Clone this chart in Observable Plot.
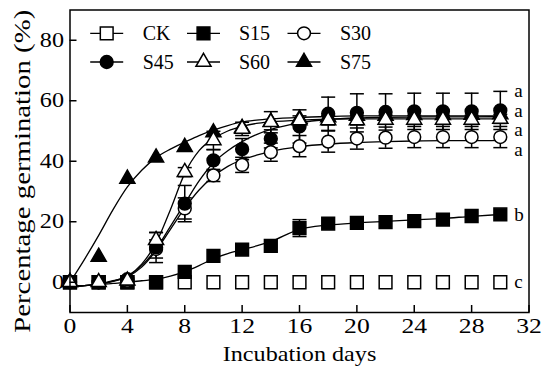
<!DOCTYPE html>
<html><head><meta charset="utf-8">
<script src="https://cdn.jsdelivr.net/npm/d3@7"></script>
<script src="https://cdn.jsdelivr.net/npm/@observablehq/plot@0.6"></script>
<style>
body{margin:0;background:#fff;}
#chart svg{font-family:"Liberation Serif","Times New Roman",serif;}
</style></head><body><div id="chart"></div>
<script>
// ---- data ----
const days = [0,2,4,6,8,10,12,14,16,18,20,22,24,26,28,30];
const CK  = [0,0,0,0,0,0,0,0,0,0,0,0,0,0,0,0];
const S15 = [0,0,0,0,3.4,8.7,10.8,12,17.9,19.4,19.6,19.9,20.2,20.7,21.9,22.4];
const S30 = [0,0,0.5,11,24.4,35.3,38.8,43,45,46.5,47.5,47.8,48,48,48,48];
const S45 = [0,0,1,11.5,26,40.3,44,47.4,51.5,55.7,56,56.3,56.5,56.5,56.5,56.8];
const S60 = [0,0,0.5,13.9,36.4,46.9,50.7,52.9,53.5,53.5,53.5,53.7,53.7,53.7,53.7,54];
const S75 = [0,8.4,34.2,41.2,44.7,49.5,51,53,54,54.5,55,55,55.2,55.2,55.3,55.5];
// standard errors
const seCK  = [0,0,0,0,0,0,0,0,0,0,0,0,0,0,0,0];
const seS15 = [0,0,0,0,0,0,0,0,2.8,0,0,0,0,0,0,0];
const seS30 = [0,0,0,3,3.5,2,2.5,3,3.5,3.5,3.5,3.5,3.5,3.5,3.5,3.5];
const seS45 = [0,0,0,5,6,3.5,3.5,3,5.5,5.5,6.3,6,6,6,6,6.3];
const seS60 = [0,0,0,2.5,1.5,3,2.2,3.5,1.5,1.5,1.5,1.5,1.5,1.5,1.5,1.5];
const seS75 = [0,0,0,0,0,0,0,0,0,0,0,0,0,0,0,0];
// fitted curves
const fitDays = [0,1,2,3,4,5,6,7,8,9,10,11,12,13,14,16,18,20,22,24,26,28,30];
const fitS15 = [-1.3,-1.1,-0.8,-0.4,0,0.5,1,2,3.5,5.5,7.8,9.5,10.8,12,13.5,17.5,18.9,19.6,20.1,20.6,21.1,21.8,22.4];
const fitS30 = [-1.3,-1.1,-0.6,0.3,1.8,5,10.5,17.5,24.5,30.5,35,38.3,40.5,42,43.2,44.8,45.7,46.2,46.5,46.7,46.8,46.8,46.9];
const fitS45 = [-1.3,-1.1,-0.6,0.4,2,5.5,11,18.5,26,33.5,39.5,43.5,46.5,48.8,50.5,52.7,53.8,54.3,54.5,54.6,54.7,54.7,54.8];
const fitS60 = [-1.3,-1.1,-0.6,0.5,2,6,13,24,36,43.5,47.5,50,51.5,52.5,53,53.6,53.9,54,54,54,54,54,54];
const fitS75 = [0,7.5,15.5,24,31.5,37,41.2,44,46.3,48.5,50.3,51.8,53,53.6,54,54.5,54.8,55,55,55,55,55,55];
// significance letters
const sigLetters = ["a","a","a","a","b","c"];
const sigY = [63.4,56.8,50.5,43.6,22.1,0];
const sigX = [30,30,30,30,30,30];
// axes
const xTicks = [0,4,8,12,16,20,24,28,32];
const yTicks = [0,20,40,60,80];
const xTitle = "Incubation days";
const yTitle = "Percentage germination (%)";
const legendNames = ["CK","S15","S30","S45","S60","S75"];

// ---- styles ----
const sym = {CK:"square",S15:"square",S30:"circle",S45:"circle",S60:"triangle",S75:"triangle"};
const filled = {CK:false,S15:true,S30:false,S45:true,S60:false,S75:true};
const rad = {square:7.2,circle:6.4,triangle:5.6};

const vals = {CK,S15,S30,S45,S60,S75};
const ses = {CK:seCK,S15:seS15,S30:seS30,S45:seS45,S60:seS60,S75:seS75};
const fits = {S15:fitS15,S30:fitS30,S45:fitS45,S60:fitS60,S75:fitS75};

const rows = s => days.map((d,i)=>({day:d, v:vals[s][i], lo:vals[s][i]-ses[s][i], hi:vals[s][i]+ses[s][i], se:ses[s][i]}));
const fitRows = s => fitDays.map((d,i)=>({day:d, v:fits[s][i]}));

const cap = {draw(ctx, size){ const w = 7; ctx.moveTo(-w,0); ctx.lineTo(w,0); }};

const drawOrder = ["CK","S15","S30","S45","S75","S60"];
const marks = [];
for (const s of Object.keys(fits)) {
  marks.push(Plot.line(fitRows(s), {x:"day", y:"v", curve:"monotone-x", stroke:"black", strokeWidth:1.3}));
}
for (const s of drawOrder) {
  const r = rows(s).filter(d=>d.se>0);
  marks.push(Plot.ruleX(r, {x:"day", y1:"lo", y2:"hi", stroke:"black", strokeWidth:1.5}));
  marks.push(Plot.dot(r, {x:"day", y:"hi", symbol:cap, r:3, fill:"none", stroke:"black", strokeWidth:1.5}));
  marks.push(Plot.dot(r, {x:"day", y:"lo", symbol:cap, r:3, fill:"none", stroke:"black", strokeWidth:1.5}));
}
for (const s of drawOrder) {
  marks.push(Plot.dot(rows(s), {x:"day", y:"v", symbol:sym[s], r:rad[sym[s]],
    fill: filled[s] ? "black" : "white", stroke:"black", strokeWidth:1.5}));
}

const plot = Plot.plot({
  width:548, height:368,
  marginLeft:69.5, marginRight:19.5, marginTop:9.5, marginBottom:56,
  style:{fontFamily:"Liberation Serif, Times New Roman, serif", fontSize:"20px", background:"white", overflow:"visible"},
  x:{domain:[0,32]},
  y:{domain:[-10,90]},
  marks:[
    ...marks,
    Plot.frame({stroke:"black", strokeWidth:1.5}),
    Plot.axisX(xTicks, {tickSize:-7, tickFormat:()=>"", label:null, strokeWidth:1.5}),
    Plot.axisX(xTicks, {tickSize:0, tickPadding:6, label:null, fontSize:21, fill:"black", className:"xtl"}),
    Plot.axisY(yTicks, {tickSize:-7, tickFormat:()=>"", label:null, strokeWidth:1.5}),
    Plot.axisY(yTicks, {tickSize:0, tickPadding:6, label:null, fontSize:21, fill:"black", className:"ytl"}),
    Plot.text([xTitle], {frameAnchor:"bottom", text:d=>d, dy:42, lineAnchor:"middle", textAnchor:"middle", fontSize:21, fill:"black", className:"xtt"}),
    Plot.text([yTitle], {frameAnchor:"left", text:d=>d, rotate:-90, dx:-48, dy:10, lineAnchor:"middle", textAnchor:"middle", fontSize:24, fill:"black", className:"ytt"}),
    Plot.text(sigLetters.map((t,i)=>({t, x:sigX[i], y:sigY[i]})), {x:"x", y:"y", text:"t", dx:14, textAnchor:"start", fontSize:19, fill:"black"})
  ]
});
document.getElementById("chart").appendChild(plot);

// legend inside the plot area (top-left)
const svg = d3.select(plot);
const legCols = [106.7, 203.5, 304];
const legTextX = [142.7, 239, 340];
const legRows = [33.3, 62];
const lg = svg.append("g");
legendNames.forEach((s,i)=>{
  const col = i % 3, row = Math.floor(i/3);
  const cx = legCols[col], cy = legRows[row];
  lg.append("line").attr("x1",cx-16.5).attr("x2",cx+16.5).attr("y1",cy).attr("y2",cy).attr("stroke","black").attr("stroke-width",1.3);
  const t = sym[s];
  const d3sym = t==="square"?d3.symbolSquare:t==="circle"?d3.symbolCircle:d3.symbolTriangle;
  const rr = rad[t];
  lg.append("path").attr("d", d3.symbol(d3sym, Math.PI*rr*rr)()).attr("transform",`translate(${cx},${cy})`)
    .attr("fill", filled[s]?"black":"white").attr("stroke","black").attr("stroke-width",1.5);
  lg.append("text").attr("x", legTextX[col]).attr("y", cy).attr("dy","0.35em").attr("text-anchor","start")
    .attr("font-size",20).attr("fill","black").text(s);
});

// the reference's lettering is set wider than Liberation Serif: stretch horizontally
function stretch(sel, f){
  svg.selectAll(sel).each(function(){
    const n = this.getComputedTextLength ? this.getComputedTextLength() : 0;
    if (n > 0) { this.setAttribute("textLength", n*f); this.setAttribute("lengthAdjust","spacingAndGlyphs"); }
  });
}
stretch(".xtl text", 1.22);
stretch(".ytl text", 1.15);
stretch(".xtt text", 1.15);
stretch(".ytt text", 1.2);
</script></body></html>
